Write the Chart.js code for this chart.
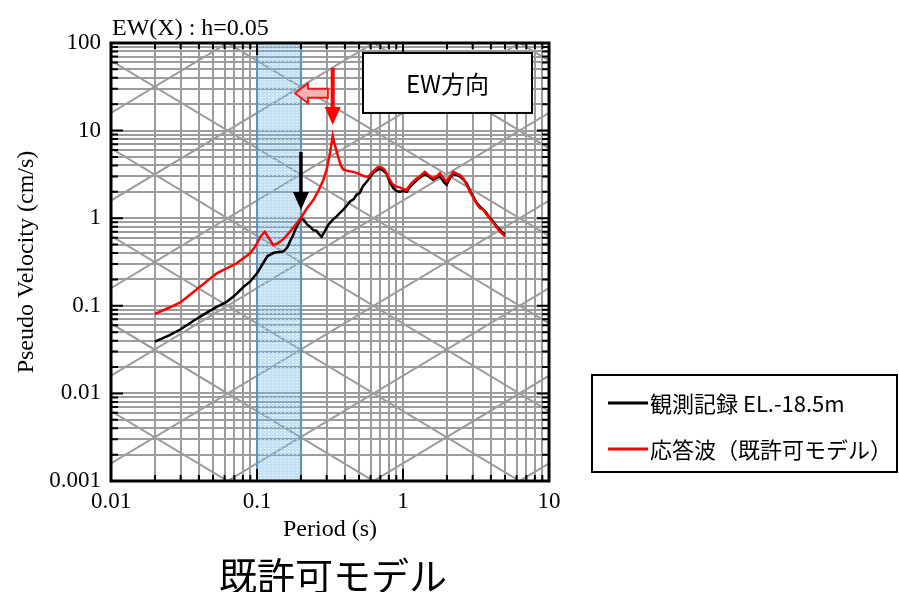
<!DOCTYPE html>
<html><head><meta charset="utf-8">
<script src="https://cdn.jsdelivr.net/npm/chart.js@4/dist/chart.umd.min.js"></script>
<style>html,body{margin:0;padding:0;background:#fff;}canvas{display:block;}</style>
</head><body>
<canvas id="c" width="899" height="592"></canvas>
<script>
// ---- data (period in s, pseudo velocity in cm/s) ----
const obsPeriod = [0.02,0.025,0.03,0.037,0.045,0.053,0.062,0.07,0.081,0.09,0.1,0.11,0.118,0.129,0.14,0.147,0.155,0.162,0.168,0.176,0.183,0.192,0.2,0.21,0.22,0.231,0.243,0.255,0.265,0.277,0.29,0.305,0.316,0.33,0.35,0.37,0.39,0.41,0.434,0.46,0.48,0.507,0.53,0.564,0.59,0.626,0.66,0.696,0.73,0.773,0.81,0.859,0.9,0.954,1.0,1.06,1.12,1.21,1.3,1.41,1.5,1.61,1.7,1.79,1.9,1.99,2.1,2.21,2.35,2.46,2.6,2.73,2.9,3.03,3.2,3.37,3.55,3.74,3.95,4.16,4.4,4.62,4.85,5.0];
const obsVel = [0.039,0.046,0.054,0.068,0.083,0.097,0.111,0.13,0.165,0.19,0.235,0.306,0.37,0.40,0.41,0.41,0.43,0.47,0.54,0.63,0.74,0.87,1.0,0.95,0.85,0.80,0.73,0.72,0.66,0.615,0.70,0.82,0.88,0.96,1.04,1.15,1.25,1.38,1.55,1.65,1.85,1.95,2.3,2.6,2.9,3.3,3.5,3.7,3.5,3.2,2.6,2.2,2.05,2.0,2.05,2.0,2.3,2.6,2.9,3.2,3.0,2.75,2.9,3.0,2.6,2.4,2.9,3.2,3.1,2.98,2.75,2.5,2.0,1.76,1.5,1.35,1.25,1.14,1.0,0.91,0.80,0.73,0.68,0.66];
const respPeriod = [0.02,0.025,0.03,0.0407,0.053,0.0726,0.0896,0.095,0.1,0.106,0.113,0.12,0.129,0.136,0.144,0.155,0.168,0.185,0.202,0.22,0.243,0.265,0.285,0.3,0.316,0.33,0.34,0.36,0.375,0.39,0.42,0.457,0.49,0.52,0.55,0.58,0.61,0.64,0.67,0.70,0.73,0.75,0.79,0.84,0.89,0.95,1.0,1.06,1.12,1.21,1.3,1.41,1.5,1.61,1.7,1.79,1.9,1.99,2.1,2.21,2.35,2.46,2.6,2.73,2.9,3.03,3.2,3.37,3.55,3.74,3.95,4.16,4.4,4.62,4.85,5.0];
const respVel = [0.081,0.095,0.11,0.165,0.235,0.306,0.397,0.45,0.517,0.62,0.70,0.60,0.494,0.51,0.54,0.60,0.70,0.85,1.04,1.3,1.61,2.1,2.73,3.6,5.5,8.7,7.0,5.0,4.0,3.6,3.45,3.38,3.25,3.1,3.0,2.98,3.3,3.55,3.8,3.86,3.7,3.55,3.0,2.5,2.3,2.25,2.15,2.1,2.4,2.75,3.0,3.38,3.1,2.85,3.0,3.26,2.85,2.61,3.0,3.38,3.2,3.11,2.8,2.39,1.95,1.72,1.45,1.3,1.25,1.1,0.98,0.88,0.78,0.70,0.65,0.62];
const seriesLabels = ['観測記録 EL.-18.5m', '応答波（既許可モデル）'];
const seriesColors = ['#000000', '#ff0000'];

// ---- axis ticks ----
const xTickValues = [0.01,0.02,0.03,0.04,0.05,0.06,0.07,0.08,0.09,0.1,0.2,0.3,0.4,0.5,0.6,0.7,0.8,0.9,1,2,3,4,5,6,7,8,9,10];
const xMajor = [0.01,0.1,1,10];
const xMajorLabels = ['0.01','0.1','1','10'];
const yTickValues = [0.001,0.002,0.003,0.004,0.005,0.006,0.007,0.008,0.009,0.01,0.02,0.03,0.04,0.05,0.06,0.07,0.08,0.09,0.1,0.2,0.3,0.4,0.5,0.6,0.7,0.8,0.9,1,2,3,4,5,6,7,8,9,10,20,30,40,50,60,70,80,90,100];
const yMajor = [0.001,0.01,0.1,1,10,100];
const yMajorLabels = ['0.001','0.01','0.1','1','10','100'];

// tripartite diagonal lines: constant acceleration (cm/s^2) and displacement (cm)
const accelLines = [0.001,0.01,0.1,1,10,100,1000,10000,100000];
const dispLines = [0.000001,0.00001,0.0001,0.001,0.01,0.1,1,10,100,1000];

// highlighted period band (s)
const bandRange = [0.1, 0.2];

// annotations (data units)
const redArrow = {T:0.33, vTop:51.9, vTip:11.6};
const blackArrow = {T:0.2, vTop:5.7, vTip:1.24};
const pinkArrow = {tTip:0.182, tTail:0.306, V:26.7};
const dirBox = {t0:0.532, t1:7.65, v0:15.9, v1:76.9, text:'EW方向'};
const chartTitle = 'EW(X) : h=0.05';
const bottomCaption = '既許可モデル';

const W = 899, H = 592;
const SERIF = '"Liberation Serif","Times New Roman",serif';
const JP = '"Noto Sans CJK JP","Noto Sans",sans-serif';

function makePattern(ctx){
  const p = document.createElement('canvas'); p.width = 4; p.height = 3;
  const g = p.getContext('2d');
  g.fillStyle = 'rgba(110,180,228,0.40)'; g.fillRect(0,0,4,3);
  g.fillStyle = 'rgba(255,255,255,0.55)'; g.fillRect(0,1,2,1);
  return ctx.createPattern(p,'repeat');
}

const decor = {
  id:'decor',
  beforeDatasetsDraw(chart){
    const {ctx, chartArea:a, scales:{x,y}} = chart;
    ctx.save();
    ctx.beginPath(); ctx.rect(a.left,a.top,a.right-a.left,a.bottom-a.top); ctx.clip();
    ctx.strokeStyle = '#9c9c9c'; ctx.lineWidth = 2;
    const T0 = x.min, T1 = x.max, k = 2*Math.PI;
    accelLines.forEach(A=>{
      ctx.beginPath();
      ctx.moveTo(x.getPixelForValue(T0), y.getPixelForValue(A*T0/k));
      ctx.lineTo(x.getPixelForValue(T1), y.getPixelForValue(A*T1/k));
      ctx.stroke();
    });
    dispLines.forEach(D=>{
      ctx.beginPath();
      ctx.moveTo(x.getPixelForValue(T0), y.getPixelForValue(k*D/T0));
      ctx.lineTo(x.getPixelForValue(T1), y.getPixelForValue(k*D/T1));
      ctx.stroke();
    });
    // band
    const bx0 = x.getPixelForValue(bandRange[0]), bx1 = x.getPixelForValue(bandRange[1]);
    ctx.fillStyle = makePattern(ctx);
    ctx.fillRect(bx0, a.top, bx1-bx0, a.bottom-a.top);
    ctx.strokeStyle = '#4a8fc6'; ctx.lineWidth = 1.5;
    ctx.beginPath(); ctx.moveTo(bx0,a.top); ctx.lineTo(bx0,a.bottom); ctx.moveTo(bx1,a.top); ctx.lineTo(bx1,a.bottom); ctx.stroke();
    ctx.restore();
  },
  afterDatasetsDraw(chart){
    const {ctx, chartArea:a, scales:{x,y}} = chart;
    ctx.save();
    // inner ticks
    ctx.strokeStyle = '#000'; ctx.lineWidth = 2;
    xTickValues.forEach(v=>{
      const px = x.getPixelForValue(v), L = xMajor.includes(v) ? 12 : 6;
      ctx.beginPath(); ctx.moveTo(px,a.bottom); ctx.lineTo(px,a.bottom-L); ctx.moveTo(px,a.top); ctx.lineTo(px,a.top+L); ctx.stroke();
    });
    yTickValues.forEach(v=>{
      const py = y.getPixelForValue(v), L = yMajor.includes(v) ? 12 : 7;
      ctx.beginPath(); ctx.moveTo(a.left,py); ctx.lineTo(a.left+L,py); ctx.moveTo(a.right,py); ctx.lineTo(a.right-L,py); ctx.stroke();
    });
    // plot frame
    ctx.lineWidth = 3; ctx.strokeRect(a.left, a.top, a.right-a.left, a.bottom-a.top);

    // red arrow
    const rx = x.getPixelForValue(redArrow.T), rTop = y.getPixelForValue(redArrow.vTop), rTip = y.getPixelForValue(redArrow.vTip);
    ctx.strokeStyle = '#ff0000'; ctx.fillStyle = '#ff0000'; ctx.lineWidth = 4;
    ctx.beginPath(); ctx.moveTo(rx, rTop); ctx.lineTo(rx, rTip-15); ctx.stroke();
    ctx.beginPath(); ctx.moveTo(rx-8, rTip-18); ctx.lineTo(rx+8, rTip-18); ctx.lineTo(rx, rTip); ctx.closePath(); ctx.fill();
    // black arrow
    const bx = x.getPixelForValue(blackArrow.T), bTop = y.getPixelForValue(blackArrow.vTop), bTip = y.getPixelForValue(blackArrow.vTip);
    ctx.strokeStyle = '#000'; ctx.fillStyle = '#000'; ctx.lineWidth = 3.5;
    ctx.beginPath(); ctx.moveTo(bx, bTop); ctx.lineTo(bx, bTip-15); ctx.stroke();
    ctx.beginPath(); ctx.moveTo(bx-8, bTip-18); ctx.lineTo(bx+8, bTip-18); ctx.lineTo(bx, bTip); ctx.closePath(); ctx.fill();
    // pink hollow arrow (pointing left)
    const px0 = x.getPixelForValue(pinkArrow.tTip), px1 = x.getPixelForValue(pinkArrow.tTail), py = y.getPixelForValue(pinkArrow.V);
    const hx = px0 + 13;
    ctx.beginPath();
    ctx.moveTo(px0, py); ctx.lineTo(hx, py-10); ctx.lineTo(hx, py-4.5); ctx.lineTo(px1, py-4.5);
    ctx.lineTo(px1, py+4.5); ctx.lineTo(hx, py+4.5); ctx.lineTo(hx, py+10); ctx.closePath();
    ctx.fillStyle = '#f6b3b3'; ctx.fill(); ctx.strokeStyle = '#ff1010'; ctx.lineWidth = 1.8; ctx.stroke();

    // EW direction box
    const ex0 = x.getPixelForValue(dirBox.t0), ex1 = x.getPixelForValue(dirBox.t1);
    const ey0 = y.getPixelForValue(dirBox.v1), ey1 = y.getPixelForValue(dirBox.v0);
    ctx.fillStyle = '#fff'; ctx.fillRect(ex0, ey0, ex1-ex0, ey1-ey0);
    ctx.strokeStyle = '#000'; ctx.lineWidth = 2; ctx.strokeRect(ex0, ey0, ex1-ex0, ey1-ey0);
    ctx.fillStyle = '#000'; ctx.font = '24px ' + JP; ctx.textAlign = 'center'; ctx.textBaseline = 'middle';
    ctx.fillText(dirBox.text, (ex0+ex1)/2, (ey0+ey1)/2 + 1);
    ctx.restore();
  },
  afterDraw(chart){
    const {ctx, chartArea:a} = chart;
    ctx.save();
    // chart title
    ctx.fillStyle = '#000'; ctx.font = '24px ' + SERIF; ctx.textAlign = 'left'; ctx.textBaseline = 'alphabetic';
    ctx.fillText(chartTitle, a.left + 1, 35);
    // bottom caption
    ctx.font = '38px ' + JP; ctx.textAlign = 'center';
    ctx.fillText(bottomCaption, (a.left+a.right)/2 + 3, 590);
    // legend
    const lx = 592, ly = 375, lw = 305, lh = 97;
    ctx.strokeStyle = '#000'; ctx.lineWidth = 2; ctx.strokeRect(lx, ly, lw, lh);
    chart.data.datasets.forEach((ds, i)=>{
      const yy = ly + 28 + i*46;
      ctx.strokeStyle = ds.borderColor; ctx.lineWidth = 3;
      ctx.beginPath(); ctx.moveTo(lx+16, yy); ctx.lineTo(lx+56, yy); ctx.stroke();
      ctx.fillStyle = '#000'; ctx.font = '22px ' + JP; ctx.textAlign = 'left'; ctx.textBaseline = 'middle';
      ctx.fillText(ds.label, lx+58, yy+1);
    });
    ctx.restore();
  }
};

const toPts = (ts, vs) => ts.map((t,i)=>({x:t, y:vs[i]}));

new Chart(document.getElementById('c'), {
  type:'line',
  data:{ datasets:[
    {label:seriesLabels[0], data:toPts(obsPeriod, obsVel), borderColor:seriesColors[0], borderWidth:2.5, pointRadius:0, tension:0, order:1, fill:false},
    {label:seriesLabels[1], data:toPts(respPeriod, respVel), borderColor:seriesColors[1], borderWidth:2.5, pointRadius:0, tension:0, order:0, fill:false}
  ]},
  options:{
    responsive:false, animation:false, devicePixelRatio:1, events:[],
    layout:{padding:{left:0, top:43, right:W-549, bottom:0}},
    plugins:{legend:{display:false}, tooltip:{enabled:false}, title:{display:false}},
    scales:{
      x:{type:'logarithmic', min:0.01, max:10,
        afterBuildTicks:(s)=>{ s.ticks = xTickValues.map(v=>({value:v, major:xMajor.includes(v)})); },
        afterFit:(s)=>{ s.height = H - 481; },
        grid:{color:'#9c9c9c', lineWidth:2, drawTicks:false},
        border:{display:false},
        ticks:{autoSkip:false, maxRotation:0, minRotation:0, padding:7, color:'#000',
          font:{family:SERIF, size:23},
          callback:(v)=>{ const i = xMajor.indexOf(v); return i>=0 ? xMajorLabels[i] : ''; }},
        title:{display:true, text:'Period (s)', color:'#000', font:{family:SERIF, size:24}, padding:{top:0,bottom:48}}
      },
      y:{type:'logarithmic', min:0.001, max:100,
        afterBuildTicks:(s)=>{ s.ticks = yTickValues.map(v=>({value:v, major:yMajor.includes(v)})); },
        afterFit:(s)=>{ s.width = 111; },
        grid:{color:'#9c9c9c', lineWidth:2, drawTicks:false},
        border:{display:false},
        ticks:{autoSkip:false, padding:10, color:'#000',
          font:{family:SERIF, size:23},
          callback:(v)=>{ const i = yMajor.indexOf(v); return i>=0 ? yMajorLabels[i] : ''; }},
        title:{display:true, text:'Pseudo Velocity (cm/s)', color:'#000', font:{family:SERIF, size:24}, padding:{top:12,bottom:0}}
      }
    }
  },
  plugins:[decor]
});
</script>
</body></html>
